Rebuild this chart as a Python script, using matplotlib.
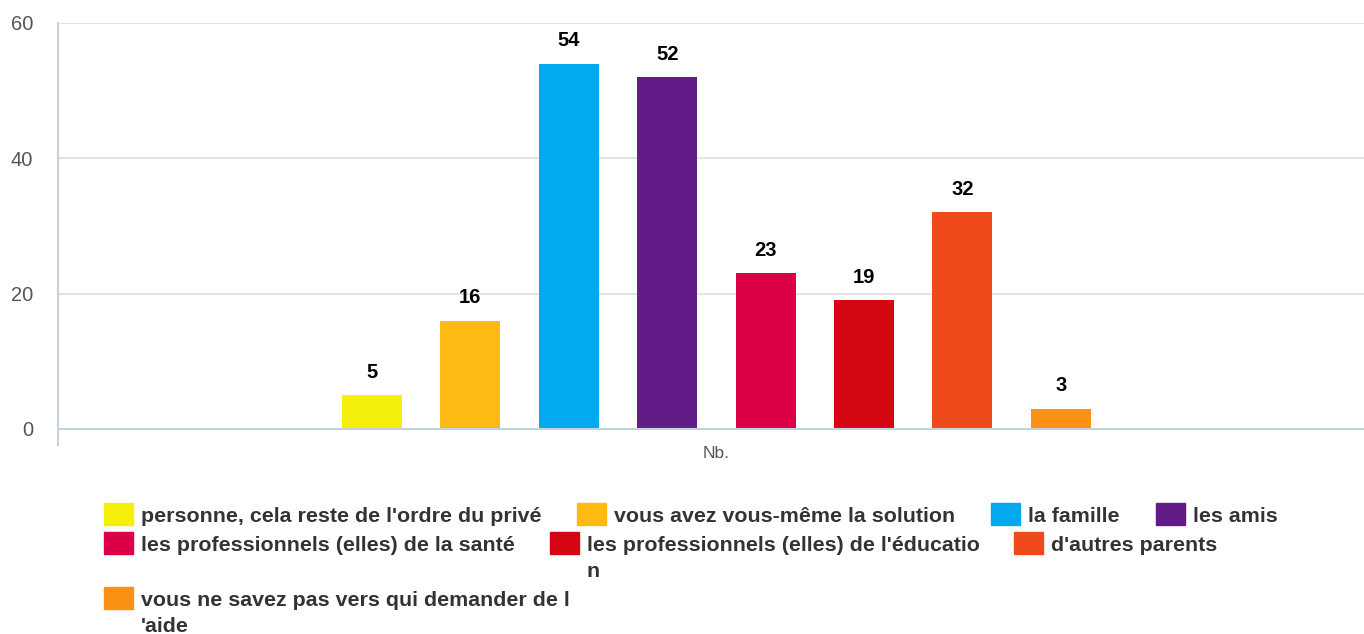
import matplotlib.pyplot as plt
from matplotlib.patches import Rectangle

plt.rcParams['font.family'] = ['Liberation Sans', 'DejaVu Sans']

labels = ["personne, cela reste de l'ordre du privé",
          "vous avez vous-même la solution",
          "la famille",
          "les amis",
          "les professionnels (elles) de la santé",
          "les professionnels (elles) de l'éducatio\nn",
          "d'autres parents",
          "vous ne savez pas vers qui demander de l\n'aide"]
values = [5, 16, 54, 52, 23, 19, 32, 3]
colors = ['#F5F00B', '#FEBA12', '#03A9EE', '#621C87',
          '#DB0046', '#D30612', '#EE4A1B', '#FB9214']
category = "Nb."
yticks = [0, 20, 40, 60]

W, H = 1364, 634
fig = plt.figure(figsize=(W / 100, H / 100), dpi=100)
ax = fig.add_axes([58 / W, (H - 429) / H, 1 - 58 / W, (429 - 23) / H])

xs = list(range(len(values)))
ax.bar(xs, values, width=0.61, color=colors, zorder=3)
for x, v in zip(xs, values):
    ax.annotate(str(v), (x, v), xytext=(0, 16.5), textcoords='offset points',
                ha='center', va='center', fontsize=14.5, fontweight='bold',
                color='black')

ax.set_xlim(-3.19, 10.08)
ax.set_ylim(0, 60)
ax.set_yticks(yticks)
ax.tick_params(axis='y', length=0, pad=18, labelsize=14.5, labelcolor='#555555')
ax.set_xticks([3.5])
ax.set_xticklabels([category])
ax.tick_params(axis='x', length=0, pad=12, labelsize=12.5, labelcolor='#555555')
ax.grid(axis='y', color='#DDDDDD', linewidth=1.2, zorder=0)
for s in ['top', 'right', 'left']:
    ax.spines[s].set_visible(False)
ax.spines['bottom'].set_color('#C3D1E0')
ax.spines['bottom'].set_linewidth(1.5)
ax.spines['bottom'].set_zorder(4)
ax.plot([-3.19, -3.19], [-2.4, 60], color='#C3D1E0', lw=1.5,
        clip_on=False, zorder=4)

# legend, laid out like the original (pixel positions: square left, text baseline)
leg_pos = [(104, 522), (577, 522), (991, 522), (1156, 522),
           (104, 551), (550, 551), (1014, 551), (104, 606)]
for (px, py), lab, c in zip(leg_pos, labels, colors):
    fig.patches.append(Rectangle((px / W, (H - py - 3) / H), 29 / W, 22 / H,
                                 transform=fig.transFigure, color=c))
    for i, line in enumerate(lab.split('\n')):
        fig.text((px + 37) / W, (H - py - 26 * i) / H, line, fontsize=15.4,
                 fontweight='bold', color='#333333', va='baseline', ha='left')

fig.savefig('out.png', dpi=100)
